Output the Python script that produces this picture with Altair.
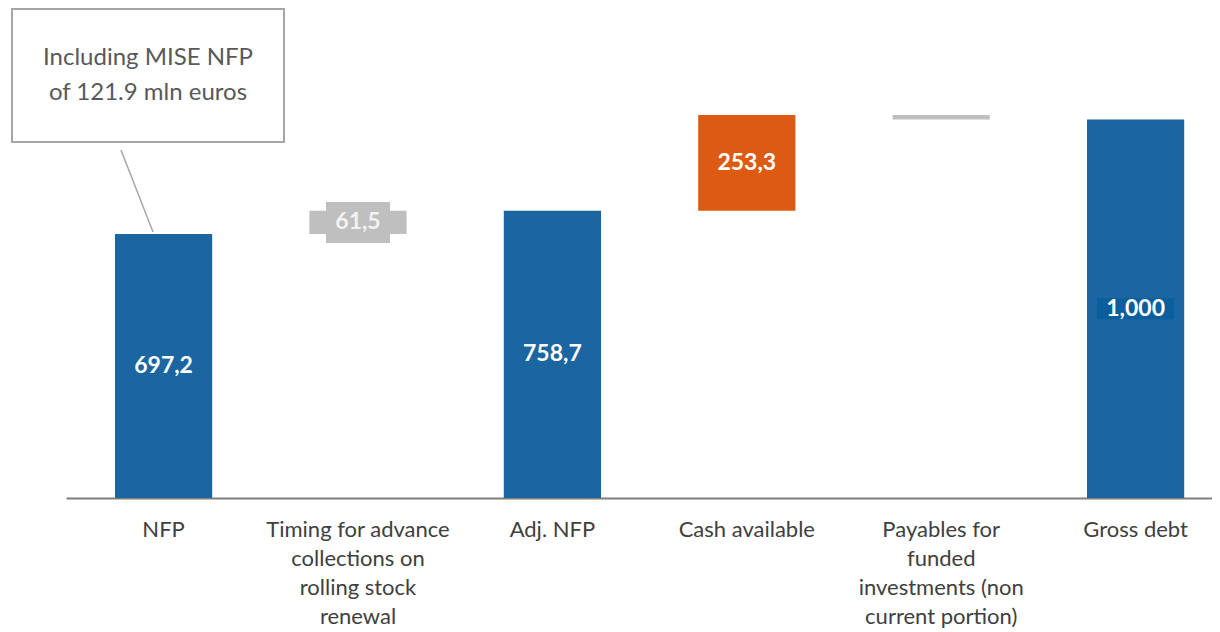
import altair as alt
import pandas as pd

categories = [
    "NFP",
    "Timing for advance|collections on|rolling stock|renewal",
    "Adj. NFP",
    "Cash available",
    "Payables for|funded|investments (non|current portion)",
    "Gross debt",
]
values = [697.2, 61.5, 758.7, 253.3, -12.0, 1000.0]
kinds = ["total", "delta", "total", "delta", "delta", "total"]
labels = ["697,2", "61,5", "758,7", "253,3", "", "1,000"]
bar_colors = ["#1B65A0", "#BFBFBF", "#1B65A0", "#DD5A13", "#BFBFBF", "#1B65A0"]
label_colors = ["#FFFFFF", "#F2F2F2", "#FFFFFF", "#FFFFFF", "#FFFFFF", "#FFFFFF"]
box_colors = ["", "#BFBFBF", "", "", "", "#0B5E9E"]

starts, ends = [], []
run = 0.0
for v, k in zip(values, kinds):
    if k == "total":
        s, e = 0.0, v
        run = v
    else:
        s, e = run, run + v
        run = e
    starts.append(s)
    ends.append(e)

df = pd.DataFrame({
    "cat": categories,
    "start": starts,
    "end": ends,
    "mid": [(a + b) / 2 for a, b in zip(starts, ends)],
    "label": labels,
    "color": bar_colors,
    "lcolor": label_colors,
    "bcolor": box_colors,
})

W, H = 1146, 480
FONT = "Lato"

x = alt.X(
    "cat:N",
    sort=categories,
    scale=alt.Scale(paddingInner=0.5, paddingOuter=0.1975, align=0.638),
    axis=alt.Axis(
        title=None,
        ticks=False,
        labelAngle=0,
        labelExpr="split(datum.label, '|')",
        labelFont=FONT,
        labelFontSize=22,
        labelColor="#404040",
        labelPadding=21,
        labelLineHeight=29,
        labelLimit=400,
        domainColor="#7F7F7F",
        domainWidth=2,
        grid=False,
    ),
)
yscale = alt.Scale(domain=[0, 1268], nice=False, zero=True)

base = alt.Chart(df)

bars = base.mark_bar().encode(
    x=x,
    y=alt.Y("start:Q", scale=yscale, axis=None),
    y2="end:Q",
    color=alt.Color("color:N", scale=None),
)

box_a = base.transform_filter("datum.cat == 'Timing for advance|collections on|rolling stock|renewal'").mark_point(
    shape="M-1,-0.64L1,-0.64L1,0.64L-1,0.64Z", size=4096, filled=True, opacity=1
).encode(
    x=alt.X("cat:N", sort=categories),
    y=alt.Y("mid:Q", scale=yscale),
    color=alt.Color("bcolor:N", scale=None),
)
box_b = base.transform_filter("datum.cat == 'Gross debt'").mark_point(
    shape="M-1,-0.273L1,-0.273L1,0.273L-1,0.273Z", size=5929, filled=True, opacity=1
).encode(
    x=alt.X("cat:N", sort=categories),
    y=alt.Y("mid:Q", scale=yscale),
    color=alt.Color("bcolor:N", scale=None),
)

texts = base.mark_text(font=FONT, fontSize=23, fontWeight="bold", baseline="middle", align="center").encode(
    x=alt.X("cat:N", sort=categories),
    y=alt.Y("mid:Q", scale=yscale),
    text="label:N",
    color=alt.Color("lcolor:N", scale=None),
)

# callout annotation (pixel placement)
note_box = base.transform_filter("datum.cat == 'NFP'").mark_rect(
    fill="white", stroke="#A6A6A6", strokeWidth=2
).encode(
    x=alt.value(-54), x2=alt.value(218), y=alt.value(-9), y2=alt.value(124)
)
note_line = base.transform_filter("datum.cat == 'NFP'").mark_rule(
    color="#A6A6A6", strokeWidth=1.5
).encode(
    x=alt.value(55), x2=alt.value(87), y=alt.value(132), y2=alt.value(214)
)
note_text = base.transform_filter("datum.cat == 'NFP'").mark_text(
    font=FONT, fontSize=24, color="#595959", align="center", baseline="middle", lineHeight=35,
    lineBreak="|",
).encode(
    x=alt.value(82), y=alt.value(40), text=alt.value("Including MISE NFP|of 121.9 mln euros")
)

chart = alt.layer(bars, box_a, box_b, texts, note_line, note_box, note_text).properties(
    width=W,
    height=H,
    background="white",
    autosize=alt.AutoSizeParams(type="none"),
    padding={"left": 58, "top": 10, "right": 0, "bottom": 134},
).configure_view(stroke=None, strokeWidth=0)

chart.save("out.html", embed_options={"renderer": "svg", "actions": False})
